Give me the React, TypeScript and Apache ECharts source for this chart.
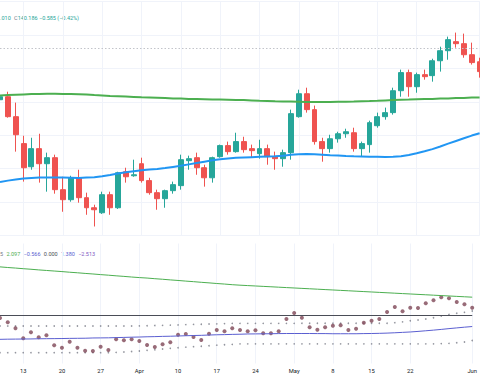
import React, { useEffect, useRef } from "react";
import * as echarts from "echarts";

// Trading days (USD/JPY daily)
const dates = [
  "2023-03-08","2023-03-09","2023-03-10",
  "2023-03-13","2023-03-14","2023-03-15","2023-03-16","2023-03-17",
  "2023-03-20","2023-03-21","2023-03-22","2023-03-23","2023-03-24",
  "2023-03-27","2023-03-28","2023-03-29","2023-03-30","2023-03-31",
  "2023-04-03","2023-04-04","2023-04-05","2023-04-06","2023-04-07",
  "2023-04-10","2023-04-11","2023-04-12","2023-04-13","2023-04-14",
  "2023-04-17","2023-04-18","2023-04-19","2023-04-20","2023-04-21",
  "2023-04-24","2023-04-25","2023-04-26","2023-04-27","2023-04-28",
  "2023-05-01","2023-05-02","2023-05-03","2023-05-04","2023-05-05",
  "2023-05-08","2023-05-09","2023-05-10","2023-05-11","2023-05-12",
  "2023-05-15","2023-05-16","2023-05-17","2023-05-18","2023-05-19",
  "2023-05-22","2023-05-23","2023-05-24","2023-05-25","2023-05-26",
  "2023-05-29","2023-05-30","2023-05-31","2023-06-01",
];

const opens = [137.12,137.30,136.11,134.50,133.12,134.20,133.30,133.66,131.75,131.15,132.46,131.27,130.67,130.37,131.45,130.67,132.82,132.58,133.30,132.29,131.57,131.21,131.69,131.99,133.48,133.66,133.06,132.46,133.72,134.38,134.02,134.62,134.20,133.90,134.20,133.72,133.60,133.96,136.11,137.48,136.53,134.62,134.20,134.79,135.09,135.15,134.20,134.44,135.57,136.11,136.35,137.66,138.74,137.90,138.62,138.56,139.45,140.05,140.59,140.47,139.81,139.39];
const closes = [137.30,136.11,135.03,133.06,134.20,133.30,133.66,131.75,131.15,132.46,131.27,130.67,130.55,131.45,130.67,132.76,132.52,132.64,132.29,131.57,131.21,131.69,132.05,133.54,133.60,133.06,132.46,133.66,134.38,134.02,134.62,134.14,134.08,134.20,133.72,133.60,133.96,136.29,137.48,136.53,134.62,134.20,134.79,135.09,135.21,134.20,134.50,135.75,136.11,136.35,137.66,138.74,137.90,138.62,138.50,139.45,140.05,140.71,140.47,139.81,139.34,138.80];
const lows = [137.00,136.05,134.02,132.23,132.94,132.17,131.63,131.51,130.43,131.03,130.97,130.25,129.55,130.30,130.25,130.60,132.17,132.52,132.17,131.45,130.55,130.67,131.51,131.75,132.94,132.64,131.93,132.17,133.66,133.84,133.96,133.96,133.66,133.60,133.24,132.94,133.12,133.54,136.05,136.35,134.44,133.42,133.96,134.56,134.85,134.02,133.72,133.96,135.45,135.93,136.23,137.30,137.30,137.54,138.32,138.20,138.80,139.51,140.23,139.63,139.22,138.44];
const highs = [137.50,137.60,136.95,134.97,134.85,135.09,133.96,133.84,132.52,132.58,132.94,131.57,130.85,131.63,131.63,132.82,133.06,133.54,133.66,132.46,131.75,131.75,132.23,133.84,133.78,133.96,133.24,133.72,134.44,134.62,135.15,134.91,134.44,134.73,134.44,134.02,134.14,136.53,137.72,137.84,136.77,134.85,135.03,135.21,135.39,135.45,134.62,135.87,136.35,136.65,137.84,138.92,138.92,138.74,138.92,139.57,140.29,140.89,141.13,141.07,140.53,139.63];

// moving averages on the price pane
const maSlow = [137.37,137.40,137.42,137.44,137.46,137.47,137.48,137.48,137.47,137.46,137.45,137.43,137.40,137.38,137.35,137.33,137.31,137.29,137.27,137.26,137.24,137.22,137.20,137.19,137.17,137.16,137.15,137.14,137.13,137.12,137.11,137.10,137.08,137.06,137.05,137.03,137.02,137.01,137.00,136.99,136.99,136.99,136.99,137.00,137.00,137.01,137.03,137.04,137.06,137.08,137.10,137.12,137.13,137.15,137.16,137.17,137.19,137.20,137.22,137.23,137.25,137.26];
const maFast = [132.20,132.29,132.36,132.42,132.45,132.47,132.47,132.47,132.47,132.46,132.45,132.47,132.49,132.55,132.63,132.72,132.79,132.85,132.91,132.95,132.99,133.04,133.11,133.18,133.26,133.34,133.42,133.50,133.56,133.61,133.65,133.67,133.69,133.71,133.73,133.74,133.78,133.83,133.86,133.88,133.87,133.84,133.81,133.79,133.76,133.74,133.73,133.72,133.71,133.70,133.71,133.74,133.82,133.92,134.04,134.17,134.33,134.50,134.66,134.82,134.98,135.12];
const lastPrice = 140.186;

// lower indicator pane
const oscDots = [-0.31,-0.85,-1.60,-2.85,-2.10,-2.73,-2.48,-3.73,-4.03,-3.28,-4.03,-4.40,-4.44,-3.90,-4.31,-2.98,-3.10,-2.98,-3.19,-3.69,-3.94,-3.60,-3.35,-2.40,-2.31,-2.69,-3.06,-2.28,-1.81,-1.98,-1.60,-1.81,-1.98,-1.85,-2.23,-2.23,-1.98,-0.44,0.31,-0.28,-1.48,-1.78,-1.48,-1.28,-1.23,-1.81,-1.65,-0.90,-0.65,-0.44,0.44,1.06,0.53,0.98,0.94,1.53,1.90,2.28,2.15,1.69,1.40,0.98];
const upperBand = [-1.31,-1.31,-1.31,-1.31,-1.31,-1.31,-1.31,-1.31,-1.31,-1.31,-1.31,-1.31,-1.31,-1.31,-1.31,-1.31,-1.31,-1.31,-1.30,-1.28,-1.25,-1.23,-1.20,-1.18,-1.14,-1.11,-1.09,-1.06,-1.04,-1.01,-0.99,-0.98,-0.98,-0.98,-0.98,-0.98,-0.98,-0.98,-0.98,-0.97,-0.97,-0.97,-0.97,-0.97,-0.97,-0.97,-0.97,-0.97,-0.97,-0.97,-0.97,-0.90,-0.79,-0.66,-0.56,-0.44,-0.28,-0.06,0.13,0.28,0.40,0.56];
const lowerBand = [-4.65,-4.65,-4.65,-4.65,-4.65,-4.65,-4.65,-4.65,-4.65,-4.65,-4.65,-4.65,-4.65,-4.65,-4.65,-4.61,-4.56,-4.50,-4.44,-4.35,-4.28,-4.19,-4.10,-4.03,-3.96,-3.90,-3.84,-3.78,-3.71,-3.66,-3.61,-3.54,-3.54,-3.54,-3.54,-3.54,-3.54,-3.54,-3.54,-3.54,-3.54,-3.54,-3.54,-3.54,-3.54,-3.54,-3.54,-3.54,-3.54,-3.54,-3.54,-3.54,-3.54,-3.54,-3.54,-3.54,-3.54,-3.51,-3.48,-3.41,-3.31,-3.13];
const signalLine = [-2.98,-2.96,-2.95,-2.94,-2.93,-2.91,-2.90,-2.89,-2.88,-2.86,-2.85,-2.84,-2.81,-2.80,-2.79,-2.76,-2.74,-2.71,-2.69,-2.66,-2.64,-2.61,-2.59,-2.56,-2.53,-2.50,-2.48,-2.44,-2.41,-2.39,-2.36,-2.34,-2.31,-2.30,-2.29,-2.28,-2.26,-2.25,-2.25,-2.25,-2.25,-2.26,-2.26,-2.28,-2.28,-2.28,-2.28,-2.26,-2.25,-2.23,-2.20,-2.16,-2.11,-2.06,-1.99,-1.91,-1.83,-1.74,-1.64,-1.55,-1.46,-1.38];
const slowLine = [6.08,6.00,5.93,5.85,5.78,5.70,5.63,5.56,5.49,5.41,5.34,5.26,5.19,5.11,5.04,4.96,4.89,4.81,4.74,4.68,4.60,4.53,4.45,4.38,4.30,4.23,4.15,4.08,4.00,3.93,3.85,3.79,3.74,3.69,3.64,3.59,3.54,3.49,3.44,3.39,3.34,3.29,3.24,3.19,3.14,3.09,3.04,2.99,2.94,2.89,2.84,2.79,2.74,2.69,2.64,2.59,2.54,2.49,2.44,2.39,2.34,2.29];

// time-axis tick labels
const tickDates = ["2023-03-13","2023-03-20","2023-03-27","2023-04-03","2023-04-10","2023-04-17","2023-04-24","2023-05-01","2023-05-08","2023-05-15","2023-05-22","2023-06-01"];
const tickLabels = ["13","20","27","Apr","10","17","24","May","8","15","22","Jun"];

const UP = "#26a69a";
const DOWN = "#ef5350";
const FONT = "Roboto, 'Liberation Sans', sans-serif";

export default function App() {
  const ref = useRef<HTMLDivElement>(null);
  useEffect(() => {
    if (!ref.current) return;
    const chart = echarts.init(ref.current, null, { renderer: "svg" });
    const isTick = (_i: number, v: string) => tickDates.indexOf(v) >= 0;
    const gridLine = { show: true, interval: isTick, lineStyle: { color: "#f0f3fa", width: 1 } };
    const candles = dates.map((_, i) => [opens[i], closes[i], lows[i], highs[i]]);
    const option: any = {
      animation: false,
      backgroundColor: "#ffffff",
      grid: [
        { left: -1.1, width: 480.7, top: 1.3, height: 234.4 },
        { left: -1.1, width: 480.7, top: 243.5, height: 120 },
      ],
      xAxis: [
        {
          type: "category", gridIndex: 0, data: dates, boundaryGap: false,
          axisLine: { show: false }, axisTick: { show: false }, axisLabel: { show: false },
          splitLine: gridLine,
        },
        {
          type: "category", gridIndex: 1, data: dates, boundaryGap: false,
          axisLine: { show: true, lineStyle: { color: "#e0e3eb", width: 1 } },
          axisTick: { show: false },
          axisLabel: {
            show: true, interval: isTick,
            formatter: (v: string) => tickLabels[tickDates.indexOf(v)] ?? "",
            fontSize: 5.8, color: "#131722", margin: 4, fontFamily: FONT,
            alignMinLabel: "center", alignMaxLabel: "center",
          },
          splitLine: gridLine,
        },
      ],
      yAxis: [
        {
          type: "value", gridIndex: 0, min: 129, max: 143, interval: 2, scale: true,
          axisLine: { show: false }, axisTick: { show: false }, axisLabel: { show: false },
          splitLine: { show: true, lineStyle: { color: "#f0f3fa", width: 1 } },
        },
        {
          type: "value", gridIndex: 1, min: -6, max: 9, interval: 3,
          axisLine: { show: false }, axisTick: { show: false }, axisLabel: { show: false },
          splitLine: { show: false },
        },
      ],
      series: [
        {
          type: "candlestick", xAxisIndex: 0, yAxisIndex: 0, data: candles, barWidth: 5.4,
          itemStyle: { color: UP, color0: DOWN, borderColor: UP, borderColor0: DOWN, borderWidth: 1 },
          markLine: {
            silent: true, symbol: ["none", "none"], label: { show: false },
            lineStyle: { color: "#c2c4ca", type: [1.5, 2], width: 1 },
            data: [{ yAxis: lastPrice }],
          },
        },
        {
          type: "line", xAxisIndex: 0, yAxisIndex: 0, data: maSlow, showSymbol: false,
          lineStyle: { color: "#4caf50", width: 2 }, itemStyle: { color: "#4caf50" },
        },
        {
          type: "line", xAxisIndex: 0, yAxisIndex: 0, data: maFast, showSymbol: false,
          lineStyle: { color: "#2196f3", width: 2 }, itemStyle: { color: "#2196f3" },
        },
        {
          type: "line", xAxisIndex: 1, yAxisIndex: 1, data: slowLine, showSymbol: false,
          lineStyle: { color: "#4caf50", width: 1 }, itemStyle: { color: "#4caf50" },
          markLine: {
            silent: true, symbol: ["none", "none"], label: { show: false },
            lineStyle: { color: "#4a4d57", type: "solid", width: 1 },
            data: [{ yAxis: 0 }],
          },
        },
        {
          type: "line", xAxisIndex: 1, yAxisIndex: 1, data: signalLine, showSymbol: false,
          lineStyle: { color: "#5b5fd1", width: 1 }, itemStyle: { color: "#5b5fd1" },
        },
        {
          type: "scatter", xAxisIndex: 1, yAxisIndex: 1, data: upperBand, symbolSize: 1.6,
          itemStyle: { color: "#787b86" },
        },
        {
          type: "scatter", xAxisIndex: 1, yAxisIndex: 1, data: lowerBand, symbolSize: 1.6,
          itemStyle: { color: "#787b86" },
        },
        {
          type: "scatter", xAxisIndex: 1, yAxisIndex: 1, data: oscDots, symbolSize: 4,
          itemStyle: { color: "#7e4656" },
        },
      ],
      graphic: [
        {
          type: "text", x: 0, y: 17.5,
          style: {
            text: "{v|.010} {l|C}{v|140.186 −0.585 (−0.42%)}",
            verticalAlign: "middle",
            rich: {
              v: { fill: UP, fontSize: 5.5, fontFamily: FONT },
              l: { fill: "#787b86", fontSize: 5.5, fontFamily: FONT },
            },
          },
        },
        {
          type: "text", x: 0, y: 254,
          style: {
            text: "{g|5} {a|2.097} {b|−0.566} {c|0.000} {d|1.380} {e|−2.513}",
            verticalAlign: "middle",
            rich: {
              g: { fill: "#787b86", fontSize: 5.5, fontFamily: FONT },
              a: { fill: "#4caf50", fontSize: 5.5, fontFamily: FONT },
              b: { fill: "#5b5fd1", fontSize: 5.5, fontFamily: FONT },
              c: { fill: "#4a4d57", fontSize: 5.5, fontFamily: FONT },
              d: { fill: "#5b5fd1", fontSize: 5.5, fontFamily: FONT },
              e: { fill: "#7e57c2", fontSize: 5.5, fontFamily: FONT },
            },
          },
        },
      ],
    };
    chart.setOption(option);
    return () => chart.dispose();
  }, []);
  return (
    <div
      ref={ref}
      style={{ position: "fixed", left: 0, top: 0, width: 480, height: 392, background: "#ffffff" }}
    />
  );
}
